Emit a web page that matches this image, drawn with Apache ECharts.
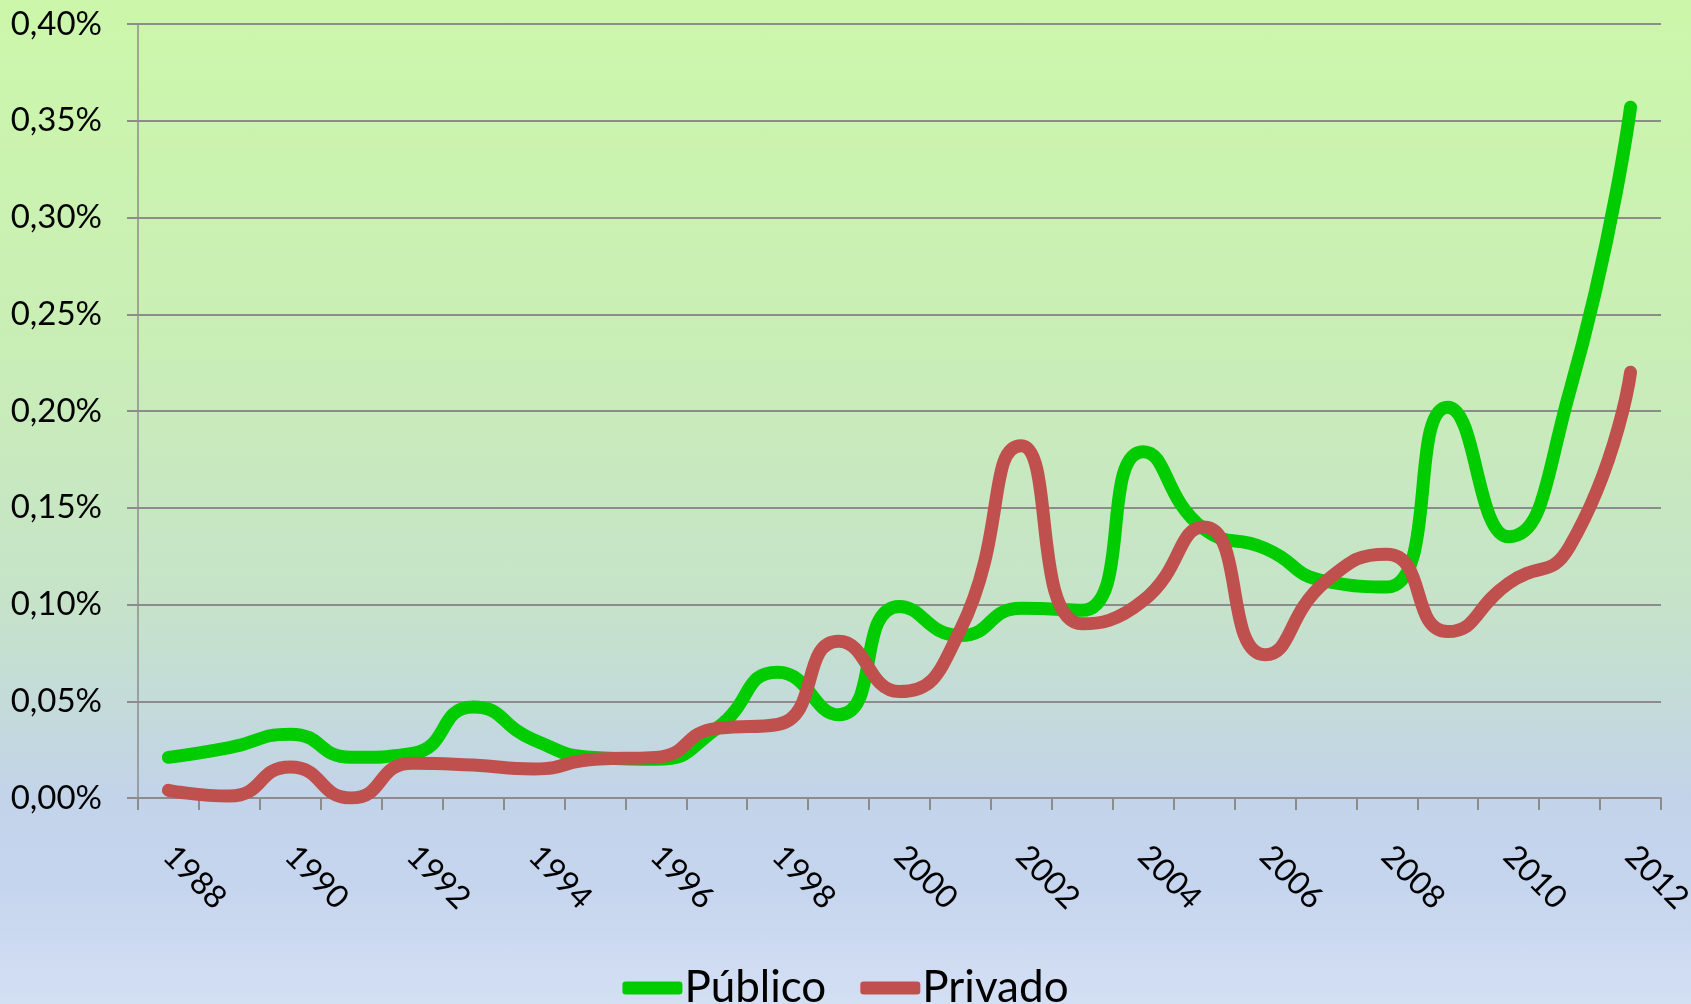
<!DOCTYPE html>
<html>
<head>
<meta charset="utf-8">
<title>Público / Privado</title>
<script src="https://cdn.jsdelivr.net/npm/echarts@6/dist/echarts.min.js"></script>
<style>
  html, body { margin: 0; padding: 0; }
  #main {
    width: 1691px; height: 1004px;
    background: linear-gradient(to bottom, #ccf7aa 0%, #c9eeb6 35%, #c6e3c9 60%, #c2d3ea 80%, #c6d5ee 88%, #d3dff3 100%);
  }
</style>
</head>
<body>
<div id="main"></div>
<script>
// anos
var years = ['1988','1989','1990','1991','1992','1993','1994','1995','1996','1997','1998','1999',
             '2000','2001','2002','2003','2004','2005','2006','2007','2008','2009','2010','2011','2012'];

// valores em %
var publico = [0.021, 0.026, 0.033, 0.021, 0.023, 0.047, 0.030, 0.021, 0.020, 0.036, 0.065, 0.043,
               0.099, 0.084, 0.098, 0.097, 0.179, 0.139, 0.129, 0.112, 0.109, 0.202, 0.135, 0.210, 0.357];
var privado = [0.004, 0.001, 0.016, 0.000, 0.018, 0.017, 0.015, 0.020, 0.021, 0.036, 0.038, 0.081,
               0.055, 0.087, 0.182, 0.090, 0.102, 0.140, 0.074, 0.112, 0.126, 0.086, 0.111, 0.130, 0.220];

var gridColor = '#8c8c8c';
var fontName = 'Lato';

var myChart = echarts.init(document.getElementById('main'));

var option = {
    backgroundColor: 'transparent',
    animation: false,
    grid: { left: 138, right: 30, top: 24, bottom: 206, containLabel: false, outerBoundsMode: 'none' },
    legend: {
        top: 961,
        left: 'center',
        icon: 'roundRect',
        itemWidth: 60,
        itemHeight: 13,
        itemGap: 34,
        textStyle: { fontFamily: fontName, fontSize: 44, color: '#000', padding: [0, 0, 0, -3] },
        data: ['Público', 'Privado']
    },
    xAxis: {
        type: 'category',
        data: years,
        boundaryGap: true,
        axisLine: { lineStyle: { color: gridColor, width: 2 } },
        axisTick: { show: true, interval: 0, length: 12, lineStyle: { color: gridColor, width: 2 } },
        axisLabel: {
            interval: 1,
            rotate: -45,
            margin: 53,
            color: '#000',
            fontFamily: fontName,
            fontSize: 32
        }
    },
    yAxis: {
        type: 'value',
        min: 0,
        max: 0.4,
        interval: 0.05,
        axisLine: { show: true, lineStyle: { color: gridColor, width: 1.5 } },
        axisTick: { show: true, length: 11, lineStyle: { color: gridColor, width: 2 } },
        splitLine: { lineStyle: { color: gridColor, width: 2 } },
        axisLabel: {
            margin: 36,
            color: '#000',
            fontFamily: fontName,
            fontSize: 33,
            formatter: function (v) { return v.toFixed(2).replace('.', ',') + '%'; }
        }
    },
    series: [{
        name: 'Público',
        type: 'line',
        data: publico,
        smooth: 0.55,
        symbol: 'none',
        color: '#00cc00',
        lineStyle: { width: 13, color: '#00cc00', cap: 'round', join: 'round' }
    }, {
        name: 'Privado',
        type: 'line',
        data: privado,
        smooth: 0.55,
        symbol: 'none',
        color: '#c0504d',
        lineStyle: { width: 13, color: '#c0504d', cap: 'round', join: 'round' }
    }]
};

myChart.setOption(option);
</script>
</body>
</html>
